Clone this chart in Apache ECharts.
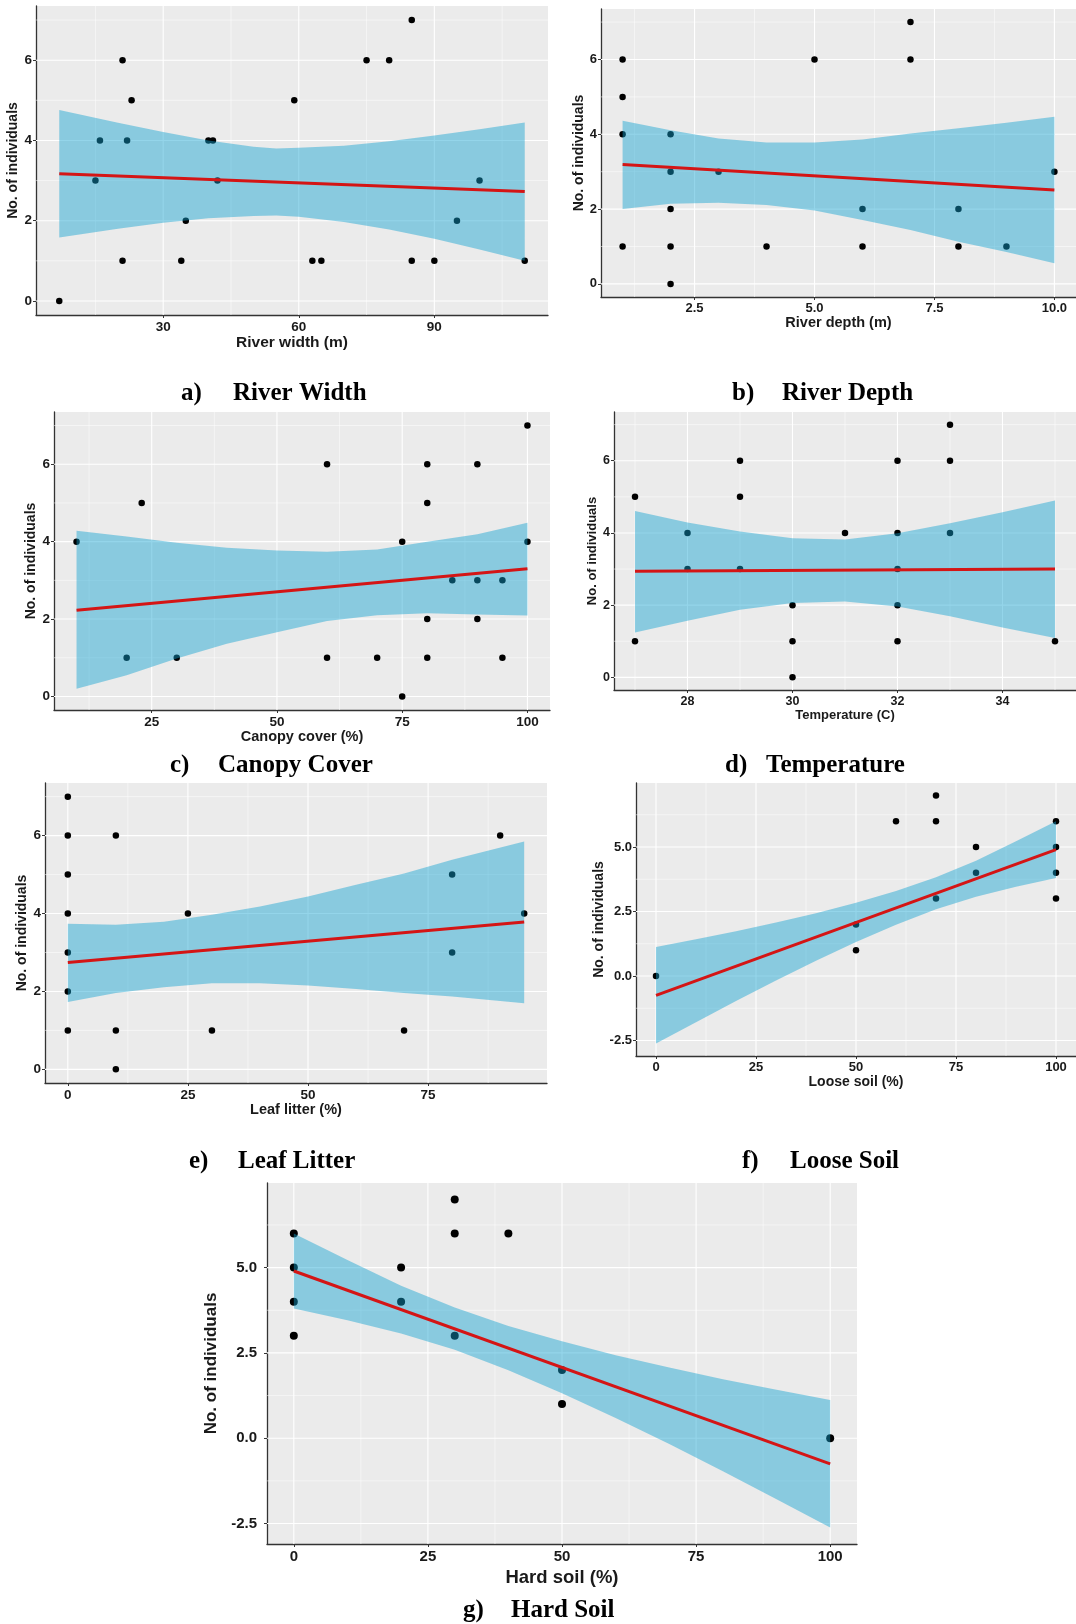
<!DOCTYPE html>
<html>
<head>
<meta charset="utf-8">
<title>No. of individuals vs habitat variables</title>
<script src="https://cdn.jsdelivr.net/npm/echarts@6/dist/echarts.min.js"></script>
<style>
  html, body { margin: 0; padding: 0; background: #fff; }
  #chart { width: 1076px; height: 1624px; }
</style>
</head>
<body>
<div id="chart"></div>
<script>
// ---- data ----
// a) river width
var widthX = [7, 15, 16, 21, 21, 22, 23, 34, 35, 40, 41, 42, 59, 63, 65, 75, 80, 85, 85, 90, 95, 100, 110];
var widthY = [0, 3, 4, 6, 1, 4, 5, 1, 2, 4, 4, 3, 5, 1, 1, 6, 6, 7, 1, 1, 2, 3, 1];
var widthBandX = [7, 20, 30, 40, 50, 55, 60, 70, 80, 90, 100, 110];
var widthBandLo = [1.58, 1.80, 1.95, 2.06, 2.12, 2.13, 2.10, 1.97, 1.78, 1.55, 1.28, 1.00];
var widthBandHi = [4.76, 4.44, 4.21, 4.00, 3.84, 3.80, 3.82, 3.87, 3.98, 4.12, 4.28, 4.45];
var widthFitX = [7, 110];
var widthFitY = [3.17, 2.73];

// b) river depth
var depthX = [1, 1, 1, 1, 2, 2, 2, 2, 2, 3, 4, 5, 6, 6, 7, 7, 8, 8, 9, 10];
var depthY = [6, 5, 4, 1, 4, 3, 2, 1, 0, 3, 1, 6, 2, 1, 7, 6, 2, 1, 1, 3];
var depthBandX = [1, 2, 3, 4, 5, 6, 7, 8, 9, 10];
var depthBandLo = [2.00, 2.14, 2.17, 2.11, 1.96, 1.71, 1.44, 1.13, 0.85, 0.55];
var depthBandHi = [4.36, 4.11, 3.89, 3.78, 3.78, 3.86, 4.02, 4.16, 4.31, 4.47];
var depthFitX = [1, 10];
var depthFitY = [3.19, 2.51];

// c) canopy cover
var canopyX = [10, 20, 23, 30, 60, 60, 70, 75, 75, 80, 80, 80, 80, 85, 90, 90, 90, 95, 95, 100, 100];
var canopyY = [4, 1, 5, 1, 6, 1, 1, 4, 0, 6, 5, 2, 1, 3, 6, 3, 2, 3, 1, 7, 4];
var canopyBandX = [10, 20, 30, 40, 50, 60, 70, 80, 90, 100];
var canopyBandLo = [0.20, 0.55, 0.98, 1.36, 1.66, 1.95, 2.10, 2.15, 2.12, 2.09];
var canopyBandHi = [4.28, 4.13, 3.97, 3.84, 3.77, 3.74, 3.80, 4.00, 4.19, 4.49];
var canopyFitX = [10, 100];
var canopyFitY = [2.23, 3.30];

// d) temperature
var tempX = [27, 27, 28, 28, 29, 29, 29, 30, 30, 30, 31, 32, 32, 32, 32, 32, 33, 33, 33, 35];
var tempY = [5, 1, 4, 3, 6, 5, 3, 2, 1, 0, 4, 6, 4, 3, 2, 1, 7, 6, 4, 1];
var tempBandX = [27, 28, 29, 30, 31, 32, 33, 34, 35];
var tempBandLo = [1.24, 1.57, 1.87, 2.06, 2.10, 1.96, 1.69, 1.38, 1.09];
var tempBandHi = [4.61, 4.29, 4.04, 3.85, 3.82, 3.99, 4.27, 4.57, 4.90];
var tempFitX = [27, 35];
var tempFitY = [2.94, 3.00];

// e) leaf litter
var litterX = [0, 0, 0, 0, 0, 0, 0, 10, 10, 10, 25, 30, 70, 80, 80, 90, 95];
var litterY = [7, 6, 5, 4, 3, 2, 1, 6, 1, 0, 4, 1, 1, 5, 3, 6, 4];
var litterBandX = [0, 10, 20, 30, 40, 50, 60, 70, 80, 95];
var litterBandLo = [1.73, 1.96, 2.11, 2.21, 2.21, 2.15, 2.06, 1.96, 1.87, 1.70];
var litterBandHi = [3.74, 3.71, 3.79, 3.97, 4.18, 4.44, 4.74, 5.03, 5.38, 5.85];
var litterFitX = [0, 95];
var litterFitY = [2.74, 3.78];

// f) loose soil
var looseX = [0, 50, 50, 60, 70, 70, 70, 80, 80, 100, 100, 100, 100];
var looseY = [0, 2, 1, 6, 7, 6, 3, 5, 4, 6, 5, 4, 3];
var looseBandX = [0, 10, 20, 30, 40, 50, 60, 70, 80, 90, 100];
var looseBandLo = [-2.62, -1.79, -0.97, -0.17, 0.59, 1.32, 1.99, 2.59, 3.07, 3.46, 3.80];
var looseBandHi = [1.12, 1.42, 1.73, 2.07, 2.43, 2.84, 3.29, 3.83, 4.47, 5.22, 6.00];
var looseFitX = [0, 100];
var looseFitY = [-0.75, 4.90];

// g) hard soil
var hardX = [0, 0, 0, 0, 20, 20, 30, 30, 30, 40, 50, 50, 100];
var hardY = [6, 5, 4, 3, 5, 4, 7, 6, 3, 6, 2, 1, 0];
var hardBandX = [0, 10, 20, 30, 40, 50, 60, 70, 80, 90, 100];
var hardBandLo = [3.80, 3.46, 3.07, 2.59, 1.99, 1.32, 0.59, -0.17, -0.97, -1.79, -2.62];
var hardBandHi = [6.00, 5.22, 4.47, 3.83, 3.29, 2.84, 2.43, 2.07, 1.73, 1.42, 1.12];
var hardFitX = [0, 100];
var hardFitY = [4.90, -0.75];

// tick breaks (major / minor)
var countTicks = [0, 2, 4, 6];
var countMinor = [1, 3, 5, 7];
var soilCountTicks = [-2.5, 0, 2.5, 5];
var soilCountMinor = [-1.25, 1.25, 3.75, 6.25];
var widthTicks = [30, 60, 90];
var widthMinor = [15, 45, 75, 105];
var depthTicks = [2.5, 5, 7.5, 10];
var depthMinor = [1.25, 3.75, 6.25, 8.75];
var canopyTicks = [25, 50, 75, 100];
var canopyMinor = [12.5, 37.5, 62.5, 87.5];
var tempTicks = [28, 30, 32, 34];
var tempMinor = [27, 29, 31, 33, 35];
var litterTicks = [0, 25, 50, 75];
var litterMinor = [12.5, 37.5, 62.5, 87.5];
var soilTicks = [0, 25, 50, 75, 100];
var soilMinor = [12.5, 37.5, 62.5, 87.5];

var yTitle = 'No. of individuals';

// ---- panel layout ----
var panels = [
  { px: widthX, py: widthY, bx: widthBandX, blo: widthBandLo, bhi: widthBandHi, fx: widthFitX, fy: widthFitY,
    xt: widthTicks, xm: widthMinor, yt: countTicks, ym: countMinor, xName: 'River width (m)',
    grid: { left: 36, top: 6, width: 512, height: 309 }, xr: [1.85, 115.15], yr: [-0.35, 7.35],
    nameSize: 15.5, yNameSize: 14, tickSize: 13.5, xGap: 18, yGap: 13, yMargin: 4, dec: 0, dot: 6.5 },
  { px: depthX, py: depthY, bx: depthBandX, blo: depthBandLo, bhi: depthBandHi, fx: depthFitX, fy: depthFitY,
    xt: depthTicks, xm: depthMinor, yt: countTicks, ym: countMinor, xName: 'River depth (m)',
    grid: { left: 601, top: 9, width: 480, height: 288 }, xr: [0.55, 10.45], yr: [-0.35, 7.35],
    nameSize: 14.5, yNameSize: 14, tickSize: 13, xGap: 17, yGap: 11, yMargin: 4, dec: 1, dot: 6.5 },
  { px: canopyX, py: canopyY, bx: canopyBandX, blo: canopyBandLo, bhi: canopyBandHi, fx: canopyFitX, fy: canopyFitY,
    xt: canopyTicks, xm: canopyMinor, yt: countTicks, ym: countMinor, xName: 'Canopy cover (%)',
    grid: { left: 54, top: 412, width: 496, height: 298 }, xr: [5.5, 104.5], yr: [-0.35, 7.35],
    nameSize: 14.5, yNameSize: 14, tickSize: 13.5, xGap: 18, yGap: 10.5, yMargin: 4, dec: 0, dot: 6.5 },
  { px: tempX, py: tempY, bx: tempBandX, blo: tempBandLo, bhi: tempBandHi, fx: tempFitX, fy: tempFitY,
    xt: tempTicks, xm: tempMinor, yt: countTicks, ym: countMinor, xName: 'Temperature (C)',
    grid: { left: 614, top: 412, width: 462, height: 278 }, xr: [26.6, 35.4], yr: [-0.35, 7.35],
    nameSize: 13, yNameSize: 13, tickSize: 12.5, xGap: 15, yGap: 12, yMargin: 4, dec: 0, dot: 6.5 },
  { px: litterX, py: litterY, bx: litterBandX, blo: litterBandLo, bhi: litterBandHi, fx: litterFitX, fy: litterFitY,
    xt: litterTicks, xm: litterMinor, yt: countTicks, ym: countMinor, xName: 'Leaf litter (%)',
    grid: { left: 45, top: 783, width: 502, height: 300 }, xr: [-4.75, 99.75], yr: [-0.35, 7.35],
    nameSize: 14.5, yNameSize: 14, tickSize: 13.5, xGap: 19, yGap: 11.5, yMargin: 4, dec: 0, dot: 6.5 },
  { px: looseX, py: looseY, bx: looseBandX, blo: looseBandLo, bhi: looseBandHi, fx: looseFitX, fy: looseFitY,
    xt: soilTicks, xm: soilMinor, yt: soilCountTicks, ym: soilCountMinor, xName: 'Loose soil (%)',
    grid: { left: 636, top: 783, width: 442, height: 273 }, xr: [-5, 105], yr: [-3.1, 7.48],
    nameSize: 14, yNameSize: 14, tickSize: 13, xGap: 17, yGap: 24, yMargin: 4, dec: 0, ydec: 1, dot: 6.5 },
  { px: hardX, py: hardY, bx: hardBandX, blo: hardBandLo, bhi: hardBandHi, fx: hardFitX, fy: hardFitY,
    xt: soilTicks, xm: soilMinor, yt: soilCountTicks, ym: soilCountMinor, xName: 'Hard soil (%)',
    grid: { left: 267, top: 1183, width: 590, height: 361 }, xr: [-5, 105], yr: [-3.1, 7.48],
    nameSize: 18.5, yNameSize: 17, tickSize: 15, xGap: 24, yGap: 33, yMargin: 10, dec: 0, ydec: 1, dot: 8 }
];

var captions = [
  { tag: 'a)', title: 'River Width', tagX: 181, titleX: 233, y: 394 },
  { tag: 'b)', title: 'River Depth', tagX: 732, titleX: 782, y: 394 },
  { tag: 'c)', title: 'Canopy Cover', tagX: 170, titleX: 218, y: 766 },
  { tag: 'd)', title: 'Temperature', tagX: 725, titleX: 766, y: 766 },
  { tag: 'e)', title: 'Leaf Litter', tagX: 189, titleX: 238, y: 1162 },
  { tag: 'f)', title: 'Loose Soil', tagX: 742, titleX: 790, y: 1162 },
  { tag: 'g)', title: 'Hard Soil', tagX: 463, titleX: 511, y: 1611 }
];

var sansFont = '"Liberation Sans", Arial, sans-serif';
var narrowFont = '"Liberation Sans Narrow", "Liberation Sans", Arial, sans-serif';
var bandFill = 'rgba(18, 162, 209, 0.45)';
var fitColor = '#d41515';

function fmt(dec) {
  return function (v) { return dec ? Number(v).toFixed(dec) : String(v); };
}

var grids = [], xAxes = [], yAxes = [], series = [];

panels.forEach(function (p, i) {
  grids.push({
    left: p.grid.left, top: p.grid.top, width: p.grid.width, height: p.grid.height,
    show: true, backgroundColor: '#ebebeb', borderWidth: 0
  });

  var common = {
    type: 'value', gridIndex: i,
    nameLocation: 'middle',
    nameTextStyle: { fontFamily: sansFont, fontWeight: 'bold', color: '#1a1a1a' },
    axisLine: { show: true, onZero: false, lineStyle: { color: '#333', width: 1.3 } },
    splitLine: { show: false }
  };

  xAxes.push(Object.assign({}, common, {
    min: p.xr[0], max: p.xr[1],
    name: p.xName, nameGap: p.xGap,
    nameTextStyle: Object.assign({}, common.nameTextStyle, { fontSize: p.nameSize }),
    axisTick: { show: true, customValues: p.xt, length: 3, lineStyle: { color: '#333' } },
    axisLabel: { customValues: p.xt, formatter: fmt(p.dec), margin: 5, fontSize: p.tickSize,
      fontWeight: 'bold', fontFamily: narrowFont, color: '#1a1a1a' }
  }));

  yAxes.push(Object.assign({}, common, {
    min: p.yr[0], max: p.yr[1],
    name: yTitle, nameGap: p.yGap,
    nameTextStyle: Object.assign({}, common.nameTextStyle, { fontSize: p.yNameSize }),
    axisTick: { show: true, customValues: p.yt, length: 3, lineStyle: { color: '#333' } },
    axisLabel: { customValues: p.yt, formatter: fmt(p.ydec || 0), margin: p.yMargin, fontSize: p.tickSize,
      fontWeight: 'bold', fontFamily: narrowFont, color: '#1a1a1a' }
  }));

  // grid lines: kind 0 = major vertical, 1 = minor vertical, 2 = major horizontal, 3 = minor horizontal
  var lines = [];
  p.xt.forEach(function (v) { lines.push([v, 0]); });
  p.xm.forEach(function (v) { lines.push([v, 1]); });
  p.yt.forEach(function (v) { lines.push([v, 2]); });
  p.ym.forEach(function (v) { lines.push([v, 3]); });

  series.push({
    type: 'custom', xAxisIndex: i, yAxisIndex: i, z: 1, silent: true,
    data: lines,
    renderItem: function (params, api) {
      var cs = params.coordSys;
      var v = api.value(0), kind = api.value(1);
      var shape;
      if (kind < 2) {
        var x = api.coord([v, p.yr[0]])[0];
        shape = { x1: x, y1: cs.y, x2: x, y2: cs.y + cs.height };
      } else {
        var y = api.coord([p.xr[0], v])[1];
        shape = { x1: cs.x, y1: y, x2: cs.x + cs.width, y2: y };
      }
      return {
        type: 'line', shape: shape,
        style: { stroke: '#ffffff', lineWidth: (kind % 2 === 0) ? 1.1 : 0.5 }
      };
    }
  });

  series.push({
    type: 'scatter', xAxisIndex: i, yAxisIndex: i, z: 2, silent: true,
    symbolSize: p.dot,
    itemStyle: { color: '#000', opacity: 1 },
    data: p.px.map(function (x, k) { return [x, p.py[k]]; })
  });

  series.push({
    type: 'custom', xAxisIndex: i, yAxisIndex: i, z: 3, silent: true,
    data: p.bx.map(function (x, k) { return [x, p.blo[k], p.bhi[k]]; }),
    encode: { x: 0, y: [1, 2] },
    renderItem: function (params, api) {
      if (params.dataIndex !== 0) return null;
      var pts = [];
      for (var k = 0; k < p.bx.length; k++) pts.push(api.coord([p.bx[k], p.bhi[k]]));
      for (var k2 = p.bx.length - 1; k2 >= 0; k2--) pts.push(api.coord([p.bx[k2], p.blo[k2]]));
      return { type: 'polygon', shape: { points: pts }, style: { fill: bandFill } };
    }
  });

  series.push({
    type: 'line', xAxisIndex: i, yAxisIndex: i, z: 4, silent: true,
    symbol: 'none',
    lineStyle: { color: fitColor, width: 3 },
    data: p.fx.map(function (x, k) { return [x, p.fy[k]]; })
  });
});

var graphics = [];
captions.forEach(function (c) {
  graphics.push({ type: 'text', x: c.tagX, y: c.y,
    style: { text: c.tag, fill: '#000', fontFamily: '"Liberation Serif", "Times New Roman", serif',
      fontWeight: 'bold', fontSize: 25, verticalAlign: 'middle' } });
  graphics.push({ type: 'text', x: c.titleX, y: c.y,
    style: { text: c.title, fill: '#000', fontFamily: '"Liberation Serif", "Times New Roman", serif',
      fontWeight: 'bold', fontSize: 25, verticalAlign: 'middle' } });
});

var chart = echarts.init(document.getElementById('chart'), null, { renderer: 'canvas' });
chart.setOption({
  backgroundColor: '#ffffff',
  animation: false,
  grid: grids,
  xAxis: xAxes,
  yAxis: yAxes,
  series: series,
  graphic: graphics
});
</script>
</body>
</html>
